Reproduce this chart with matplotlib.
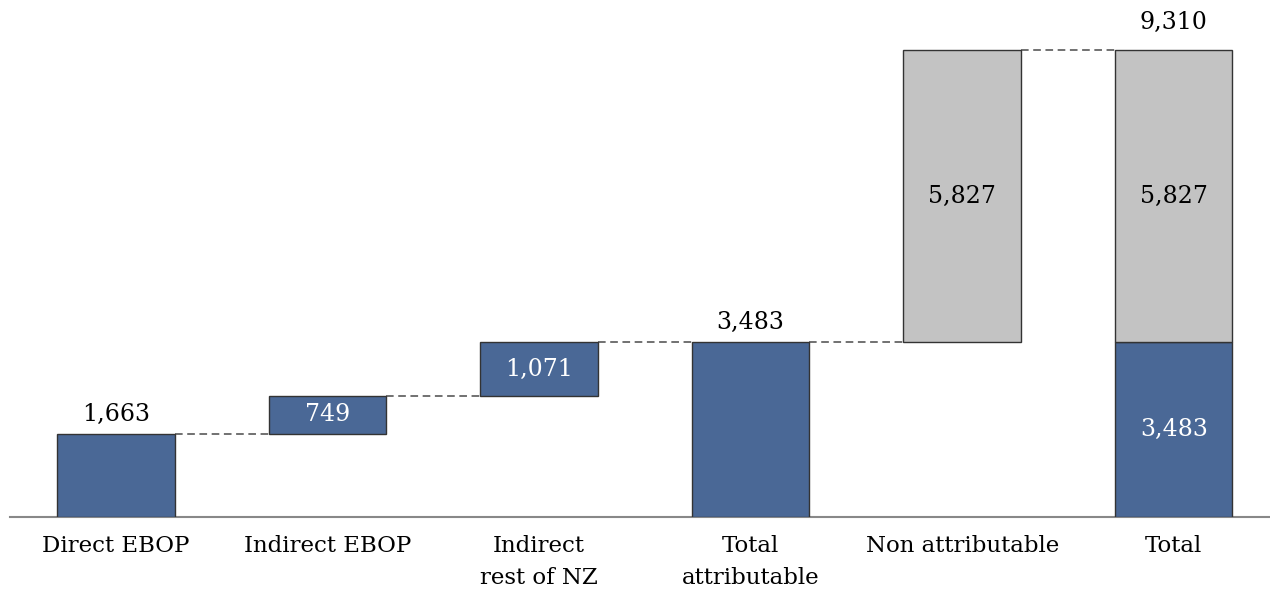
import matplotlib
matplotlib.use("Agg")
import matplotlib.pyplot as plt

plt.rcParams['font.family'] = ['DejaVu Serif']

categories = ["Direct EBOP", "Indirect EBOP", "Indirect\nrest of NZ",
              "Total\nattributable", "Non attributable", "Total"]
attributable_steps = [1663, 749, 1071]
total_attributable = 3483
non_attributable = 5827
grand_total = 9310

BLUE = "#4A6896"
GREY = "#C3C3C3"
EDGE = "#333333"

fig = plt.figure(figsize=(12.70, 5.89), dpi=100)
ax = fig.add_axes([10 / 1270, 72 / 589, 1259 / 1270, 517 / 589])
ax.set_xlim(-0.5, 5.45)
ax.set_ylim(0, 10307)

width = 0.555
x = list(range(len(categories)))

# Cumulative blue steps
bottoms = []
run = 0
for v in attributable_steps:
    bottoms.append(run)
    run += v

for i, (v, b) in enumerate(zip(attributable_steps, bottoms)):
    ax.bar(x[i], v, width, bottom=b, color=BLUE, edgecolor=EDGE, linewidth=1, zorder=3)

ax.bar(x[3], total_attributable, width, color=BLUE, edgecolor=EDGE, linewidth=1, zorder=3)
ax.bar(x[4], non_attributable, width, bottom=total_attributable, color=GREY,
       edgecolor=EDGE, linewidth=1, zorder=3)
ax.bar(x[5], total_attributable, width, color=BLUE, edgecolor=EDGE, linewidth=1, zorder=3)
ax.bar(x[5], non_attributable, width, bottom=total_attributable, color=GREY,
       edgecolor=EDGE, linewidth=1, zorder=3)

# Dashed connectors between consecutive bars
levels = [bottoms[0] + attributable_steps[0],
          bottoms[1] + attributable_steps[1],
          bottoms[2] + attributable_steps[2],
          total_attributable,
          total_attributable + non_attributable]
for i, lvl in enumerate(levels):
    ax.plot([x[i] + width / 2, x[i + 1] - width / 2], [lvl, lvl],
            color="#4a4a4a", linestyle=(0, (5, 3)), linewidth=1.1, zorder=2)

fs = 17
def fmt(v):
    return f"{v:,}"

# Value labels
ax.text(x[0], attributable_steps[0] + 390, fmt(attributable_steps[0]),
        ha="center", va="center", fontsize=fs, color="black")
for i in (1, 2):
    ax.text(x[i], bottoms[i] + attributable_steps[i] / 2, fmt(attributable_steps[i]),
            ha="center", va="center", fontsize=fs, color="white", zorder=4)
ax.text(x[3], total_attributable + 390, fmt(total_attributable),
        ha="center", va="center", fontsize=fs, color="black")
ax.text(x[4], total_attributable + non_attributable / 2, fmt(non_attributable),
        ha="center", va="center", fontsize=fs, color="black", zorder=4)
ax.text(x[5], total_attributable + non_attributable / 2, fmt(non_attributable),
        ha="center", va="center", fontsize=fs, color="black", zorder=4)
ax.text(x[5], total_attributable / 2, fmt(total_attributable),
        ha="center", va="center", fontsize=fs, color="white", zorder=4)
ax.text(x[5], grand_total + 550, fmt(grand_total),
        ha="center", va="center", fontsize=fs, color="black")

# Axis styling
for s in ("top", "right", "left"):
    ax.spines[s].set_visible(False)
ax.spines["bottom"].set_color("#888888")
ax.spines["bottom"].set_linewidth(1.5)
ax.set_yticks([])
ax.set_xticks(x)
ax.set_xticklabels(categories, fontsize=16.5, linespacing=1.6, va="top")
ax.tick_params(axis="x", length=0, pad=13)

fig.savefig("out.png", dpi=100)
